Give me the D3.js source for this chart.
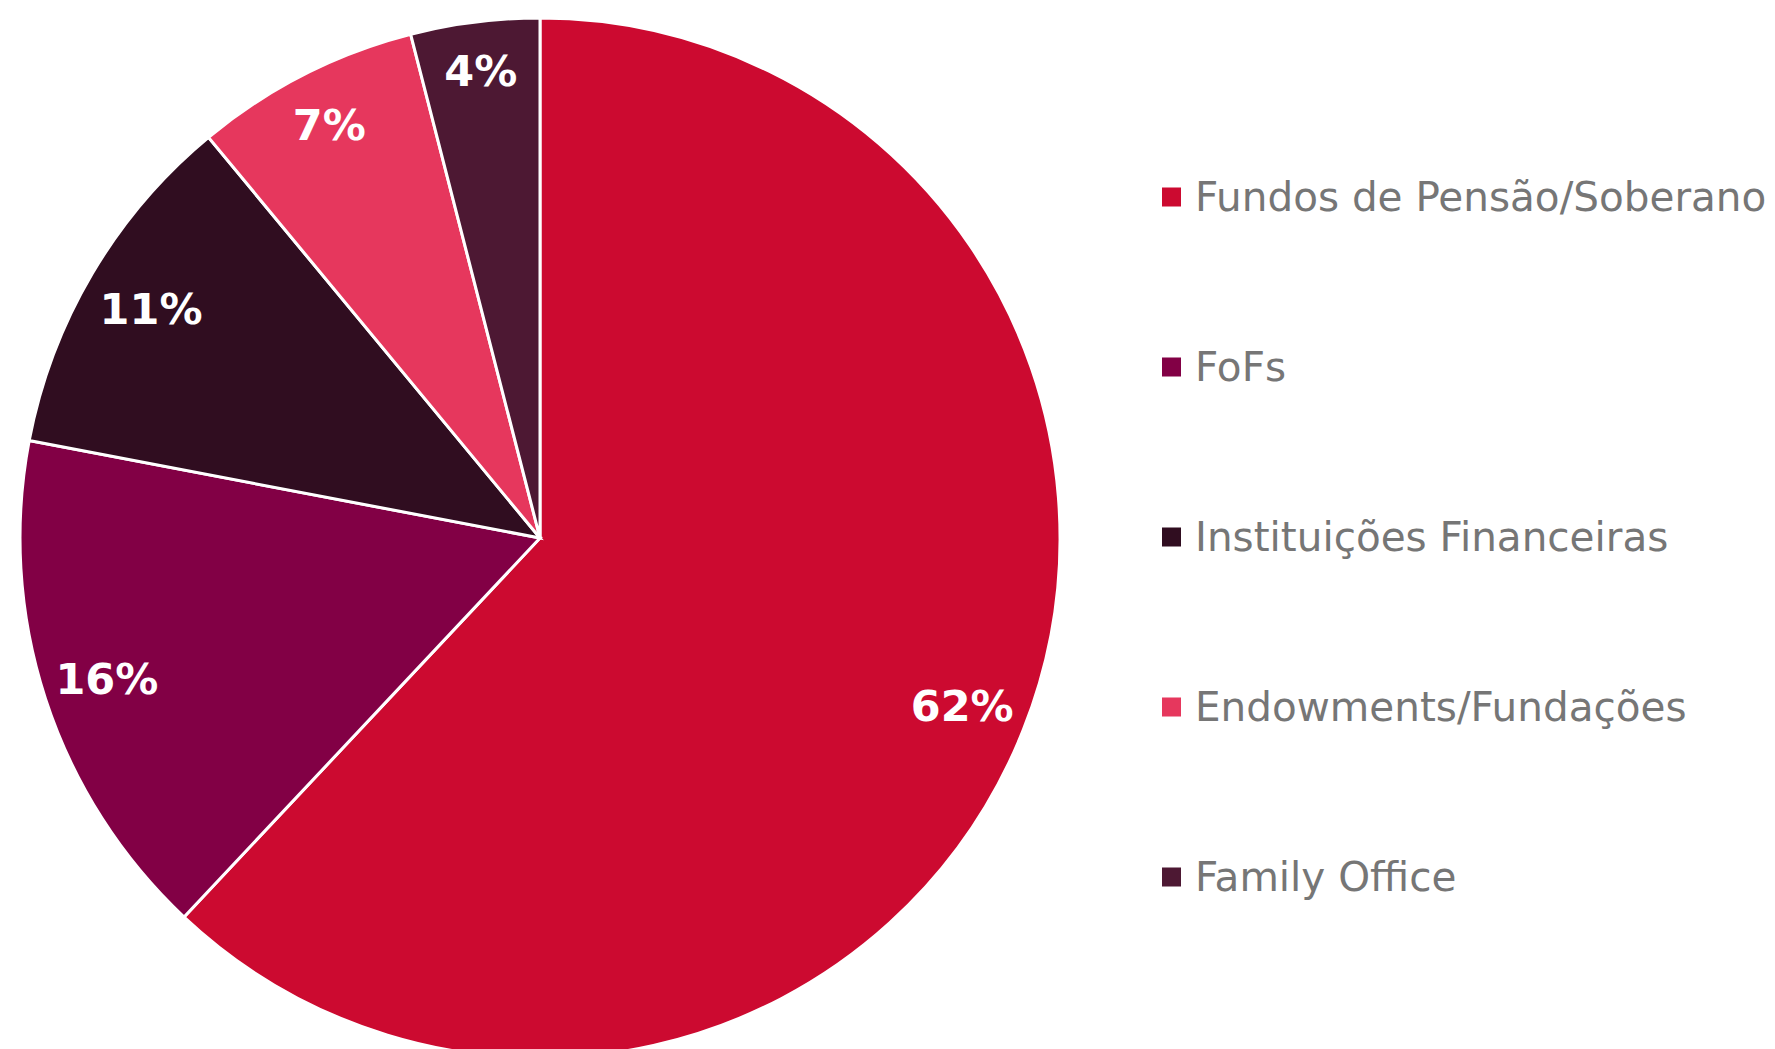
<!DOCTYPE html>
<html>
<head>
<meta charset="utf-8">
<script src="https://cdn.jsdelivr.net/npm/d3@7"></script>
<style>
  html, body { margin: 0; padding: 0; background: #fff; }
  svg { display: block; }
</style>
</head>
<body>
<div id="chart"></div>
<script>
// Data
const categories = [
  "Fundos de Pensão/Soberano",
  "FoFs",
  "Instituições Financeiras",
  "Endowments/Fundações",
  "Family Office"
];
const values = [62, 16, 11, 7, 4];
const sliceColors = ["#CC0A30", "#820045", "#300D20", "#E6375D", "#4D1833"];

const width = 1775;
const height = 1049;

const pieCenter = { x: 540, y: 538 };
const radius = 520;

const svg = d3.select("#chart")
  .append("svg")
  .attr("width", width)
  .attr("height", height);

const data = categories.map((c, i) => ({ category: c, value: values[i] }));

const color = d3.scaleOrdinal()
  .domain(categories)
  .range(sliceColors);

const pie = d3.pie()
  .sort(null)
  .value(d => d.value);

const arc = d3.arc()
  .innerRadius(0)
  .outerRadius(radius);

const arcs = pie(data);

const g = svg.append("g")
  .attr("transform", `translate(${pieCenter.x},${pieCenter.y})`);

// Slices
g.selectAll(".slice")
  .data(arcs)
  .enter()
  .append("path")
  .attr("class", "slice")
  .attr("d", arc)
  .attr("fill", d => color(d.data.category))
  .attr("stroke", "#fff")
  .attr("stroke-width", 3)
  .attr("stroke-linejoin", "miter");

// Percentage labels: "inside end" style, the label box sits just inside the rim
const labelFontSize = 43;
const capHalf = labelFontSize * 0.73 / 2;
const boxHalfHeight = labelFontSize * 0.95;
const rimRadius = radius - 3;

const labels = g.selectAll(".pct")
  .data(arcs)
  .enter()
  .append("text")
  .attr("class", "pct")
  .attr("text-anchor", "middle")
  .style("font-family", "'DejaVu Sans', sans-serif")
  .style("font-weight", "bold")
  .style("font-size", labelFontSize + "px")
  .attr("fill", "#fff")
  .text(d => d.data.value + "%");

labels.each(function(d) {
  const hw = this.getBBox().width / 2;
  const mid = (d.startAngle + d.endAngle) / 2;
  const dx = Math.sin(mid);
  const dy = -Math.cos(mid);
  const r = rimRadius - hw * Math.abs(dx) - boxHalfHeight * Math.abs(dy);
  d3.select(this)
    .attr("x", dx * r)
    .attr("y", dy * r + capHalf);
});

// Legend
const legendX = 1162;
const legendTextX = 1195;
const legendTop = 197;
const legendStep = 170;
const swatch = 19;
const legendFontSize = 40.5;

const legend = svg.append("g").attr("class", "legend");

const items = legend.selectAll(".item")
  .data(categories)
  .enter()
  .append("g")
  .attr("class", "item")
  .attr("transform", (d, i) => `translate(0,${legendTop + i * legendStep})`);

items.append("rect")
  .attr("x", legendX)
  .attr("y", -swatch / 2)
  .attr("width", swatch)
  .attr("height", swatch)
  .attr("fill", d => color(d));

items.append("text")
  .attr("x", legendTextX)
  .attr("y", 14)
  .style("font-family", "'DejaVu Sans', sans-serif")
  .style("font-size", legendFontSize + "px")
  .attr("fill", "#767676")
  .text(d => d);
</script>
</body>
</html>
